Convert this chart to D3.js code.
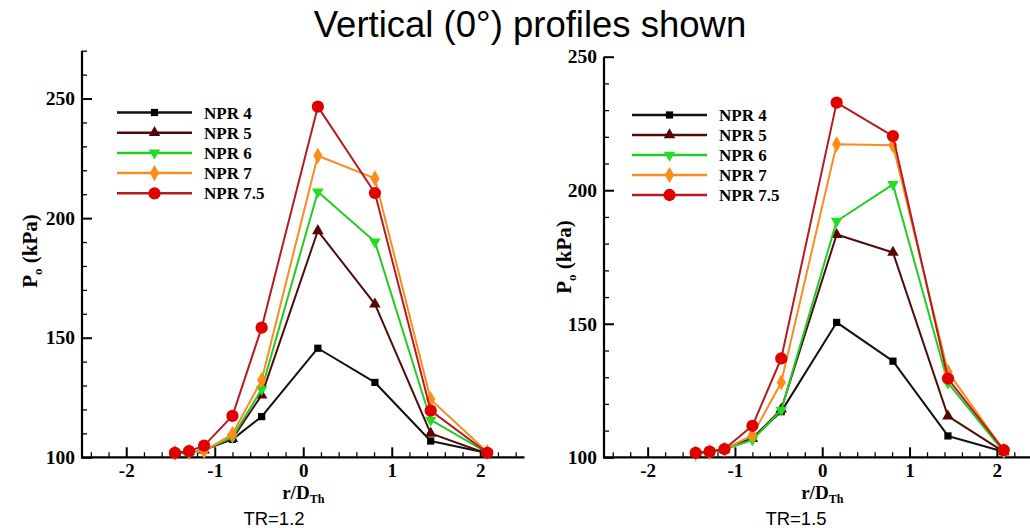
<!DOCTYPE html>
<html>
<head>
<meta charset="utf-8">
<script src="https://cdn.jsdelivr.net/npm/d3@7"></script>
<style>
  html, body { margin: 0; padding: 0; background: #fff; }
  svg { display: block; }
</style>
</head>
<body>
<svg id="chart" width="1030" height="528"></svg>
<script>
// Radial probe stations, r/D_Th
const rPositions = [-1.45, -1.29, -1.12, -0.8, -0.47, 0.165, 0.81, 1.44, 2.08];

const seriesNames = ["NPR 4", "NPR 5", "NPR 6", "NPR 7", "NPR 7.5"];

// Total pressure Po (kPa), TR = 1.2
const tr12Npr4  = [101.5, 102.0, 103.2, 107.5, 117.0, 145.6, 131.3, 106.8, 101.8];
const tr12Npr5  = [101.8, 102.3, 103.0, 107.8, 126.0, 194.7, 164.0, 110.0, 101.5];
const tr12Npr6  = [101.8, 102.3, 103.0, 108.5, 128.4, 211.0, 190.1, 115.6, 102.0];
const tr12Npr7  = [101.8, 102.3, 102.6, 109.7, 132.3, 226.1, 216.6, 124.2, 102.2];
const tr12Npr75 = [101.9, 102.6, 104.9, 117.3, 154.2, 246.6, 210.5, 119.5, 101.9];

// Total pressure Po (kPa), TR = 1.5
const tr15Npr4  = [101.5, 102.0, 103.0, 107.2, 117.1, 150.5, 136.0, 108.0, 102.1];
const tr15Npr5  = [101.5, 102.0, 103.0, 107.0, 118.0, 183.4, 176.7, 115.4, 102.0];
const tr15Npr6  = [101.5, 102.0, 103.0, 106.5, 117.7, 188.4, 202.2, 127.9, 102.0];
const tr15Npr7  = [101.5, 102.0, 103.0, 108.3, 128.0, 217.2, 216.8, 132.0, 102.5];
const tr15Npr75 = [101.7, 102.1, 103.1, 111.8, 137.0, 232.8, 220.3, 129.5, 102.7];

// Axis ticks
const xMajorTicks = [-2, -1, 0, 1, 2];
const yMajorTicksLeft = [100, 150, 200, 250];
const yMajorTicksRight = [100, 150, 200, 250];

const panelTitles = ["TR=1.2", "TR=1.5"];
const chartTitle = "Vertical (0\u00B0) profiles shown";

// Series styling
const lineColors   = ["#111111", "#4e0d0d", "#22cc22", "#f98c1e", "#b51c1f"];
const markerColors = ["#000000", "#5a0606", "#22dd22", "#ff8c1a", "#e00000"];
const markerShapes = [d3.symbolSquare, d3.symbolTriangle, "triDown", d3.symbolDiamond, d3.symbolCircle];
const markerSizes  = [52, 58, 58, 75, 118];

const svg = d3.select("#chart");
const serif = "'Liberation Serif', 'Times New Roman', serif";
const sans = "'Liberation Sans', Arial, sans-serif";

svg.append("text")
  .attr("x", 530).attr("y", 37)
  .attr("text-anchor", "middle")
  .attr("font-family", sans)
  .attr("font-size", 36.5)
  .attr("fill", "#000")
  .text(chartTitle);

function markerPath(shape, size) {
  if (shape === "triDown") {
    return d3.symbol().type(d3.symbolTriangle).size(size)();
  }
  return d3.symbol().type(shape).size(size)();
}

function minorValues(lo, hi, step, majors) {
  const out = [];
  for (let v = lo; v <= hi + 1e-9; v += step) {
    const r = Math.round(v * 100) / 100;
    if (!majors.some(m => Math.abs(m - r) < 1e-6)) out.push(r);
  }
  return out;
}

function drawPanel(cfg) {
  const g = svg.append("g");
  const x = d3.scaleLinear().domain([-2.5, 2.5]).range([cfg.x0, cfg.x1]);
  const y = d3.scaleLinear().domain(cfg.yDomain).range([cfg.yBottom, cfg.yTop]);

  // minor ticks
  const xMinor = d3.axisBottom(x)
    .tickValues(minorValues(-2.4, 2.4, 0.2, xMajorTicks))
    .tickSize(-5).tickFormat("");
  g.append("g").attr("transform", `translate(0,${cfg.yBottom})`).call(xMinor)
    .call(s => s.select(".domain").remove())
    .call(s => s.selectAll("line").attr("stroke", "#000").attr("stroke-width", 1.3));

  const yMinor = d3.axisLeft(y)
    .tickValues(minorValues(cfg.yDomain[0] + 10, cfg.yDomain[1], 10, cfg.yMajor))
    .tickSize(-5).tickFormat("");
  g.append("g").attr("transform", `translate(${cfg.x0},0)`).call(yMinor)
    .call(s => s.select(".domain").remove())
    .call(s => s.selectAll("line").attr("stroke", "#000").attr("stroke-width", 1.3));

  // major ticks and labels
  const xAxis = d3.axisBottom(x).tickValues(xMajorTicks).tickSize(-10).tickPadding(6)
    .tickFormat(d3.format("d"));
  const gx = g.append("g").attr("transform", `translate(0,${cfg.yBottom})`).call(xAxis);
  gx.select(".domain").remove();
  gx.selectAll("line").attr("stroke", "#000").attr("stroke-width", 2);
  gx.selectAll("text")
    .attr("font-family", serif).attr("font-weight", "bold").attr("font-size", 19)
    .attr("fill", "#000").text(d => d < 0 ? "-" + Math.abs(d) : d);

  const yAxis = d3.axisLeft(y).tickValues(cfg.yMajor).tickSize(-10).tickPadding(7);
  const gy = g.append("g").attr("transform", `translate(${cfg.x0},0)`).call(yAxis);
  gy.select(".domain").remove();
  gy.selectAll("line").attr("stroke", "#000").attr("stroke-width", 2);
  gy.selectAll("text")
    .attr("font-family", serif).attr("font-weight", "bold").attr("font-size", 19.5)
    .attr("fill", "#000");

  // axis lines
  g.append("line")
    .attr("x1", cfg.x0).attr("x2", cfg.x0)
    .attr("y1", y(cfg.yDomain[1])).attr("y2", cfg.yBottom + 1)
    .attr("stroke", "#000").attr("stroke-width", 2.2);
  g.append("line")
    .attr("x1", cfg.x0 - 1).attr("x2", cfg.x1)
    .attr("y1", cfg.yBottom).attr("y2", cfg.yBottom)
    .attr("stroke", "#000").attr("stroke-width", 2.2);

  // series
  const line = d3.line().x(d => x(d[0])).y(d => y(d[1]));
  cfg.series.forEach((vals, i) => {
    const pts = rPositions.map((r, k) => [r, vals[k]]);
    g.append("path").datum(pts)
      .attr("d", line)
      .attr("fill", "none")
      .attr("stroke", lineColors[i])
      .attr("stroke-width", 2)
      .attr("stroke-linejoin", "round");
    g.selectAll(null).data(pts).enter().append("path")
      .attr("d", markerPath(markerShapes[i], markerSizes[i]))
      .attr("transform", d => `translate(${x(d[0])},${y(d[1])})` + (markerShapes[i] === "triDown" ? " rotate(180)" : ""))
      .attr("fill", markerColors[i]);
  });

  // legend
  const lg = g.append("g");
  seriesNames.forEach((name, i) => {
    const ly = cfg.legendY + i * cfg.legendStep;
    lg.append("line")
      .attr("x1", cfg.legendX).attr("x2", cfg.legendX + 75)
      .attr("y1", ly).attr("y2", ly)
      .attr("stroke", lineColors[i]).attr("stroke-width", 2.5);
    lg.append("path")
      .attr("d", markerPath(markerShapes[i], markerSizes[i]))
      .attr("transform", `translate(${cfg.legendX + 37.5},${ly})` + (markerShapes[i] === "triDown" ? " rotate(180)" : ""))
      .attr("fill", markerColors[i]);
    lg.append("text")
      .attr("x", cfg.legendX + 87).attr("y", ly + 6)
      .attr("font-family", serif).attr("font-weight", "bold").attr("font-size", 17)
      .attr("fill", "#000")
      .text(name);
  });

  // y-axis title: P_o (kPa)
  const yt = g.append("text")
    .attr("transform", `translate(${cfg.yLabelX},${cfg.yLabelY}) rotate(-90)`)
    .attr("text-anchor", "middle")
    .attr("font-family", serif).attr("font-weight", "bold").attr("font-size", 21)
    .attr("fill", "#000");
  yt.append("tspan").text("P");
  yt.append("tspan").attr("font-size", 13).attr("dy", 5).text("o");
  yt.append("tspan").attr("dy", -5).text(" (kPa)");

  // x-axis title: r/D_Th
  const xt = g.append("text")
    .attr("x", x(0)).attr("y", 499)
    .attr("text-anchor", "middle")
    .attr("font-family", serif).attr("font-weight", "bold").attr("font-size", 19)
    .attr("fill", "#000");
  xt.append("tspan").text("r/D");
  xt.append("tspan").attr("font-size", 12).attr("dy", 4).text("Th");

  // panel caption
  g.append("text")
    .attr("x", cfg.captionX).attr("y", 525)
    .attr("text-anchor", "middle")
    .attr("font-family", sans).attr("font-size", 18.5)
    .attr("fill", "#000")
    .text(cfg.caption);
}

drawPanel({
  x0: 82, x1: 524.5, yBottom: 457.3, yTop: 50.7, yDomain: [100, 270],
  yMajor: yMajorTicksLeft,
  series: [tr12Npr4, tr12Npr5, tr12Npr6, tr12Npr7, tr12Npr75],
  legendX: 117, legendY: 112.5, legendStep: 20.2,
  yLabelX: 37, yLabelY: 251,
  caption: panelTitles[0], captionX: 274
});

drawPanel({
  x0: 604, x1: 1040.5, yBottom: 457.3, yTop: 56.7, yDomain: [100, 250],
  yMajor: yMajorTicksRight,
  series: [tr15Npr4, tr15Npr5, tr15Npr6, tr15Npr7, tr15Npr75],
  legendX: 632, legendY: 115, legendStep: 20,
  yLabelX: 571, yLabelY: 257,
  caption: panelTitles[1], captionX: 796
});
</script>
</body>
</html>
